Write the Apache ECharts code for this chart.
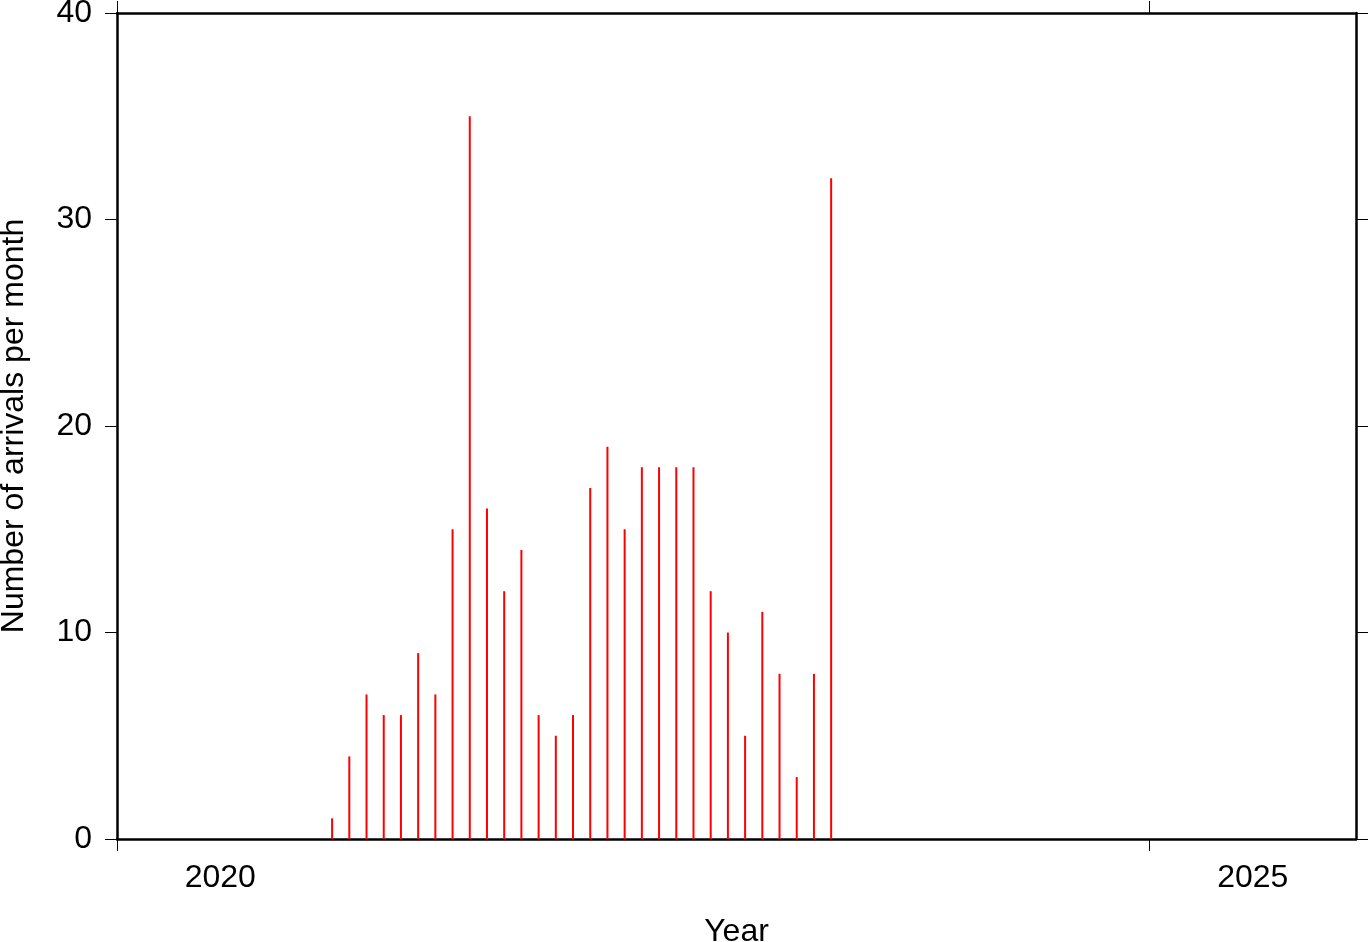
<!DOCTYPE html>
<html>
<head>
<meta charset="utf-8">
<script src="https://cdn.jsdelivr.net/npm/echarts@6/dist/echarts.min.js"></script>
<style>
html,body{margin:0;padding:0;background:#fff;}
#chart{width:1369px;height:942px;}
</style>
</head>
<body>
<div id="chart"></div>
<script>
// Months (YYYY-MM) and number of arrivals per month
const months = [
  "2021-01","2021-02","2021-03","2021-04","2021-05","2021-06",
  "2021-07","2021-08","2021-09","2021-10","2021-11","2021-12",
  "2022-01","2022-02","2022-03","2022-04","2022-05","2022-06",
  "2022-07","2022-08","2022-09","2022-10","2022-11","2022-12",
  "2023-01","2023-02","2023-03","2023-04","2023-05","2023-06"
];
const arrivals = [
  1, 4, 7, 6, 6, 9,
  7, 15, 35, 16, 12, 14,
  6, 5, 6, 17, 19, 15,
  18, 18, 18, 18, 12, 10,
  5, 11, 8, 3, 8, 32
];
const yTicks = [0, 10, 20, 30, 40];
const xTickYears = [2020, 2025];
const xLabelYears = ["2020", "2025"];

// decimal year at mid-month
function monthToYear(m) {
  const [y, mo] = m.split("-").map(Number);
  return y + (mo - 0.5) / 12;
}
const seriesData = months.map((m, i) => [monthToYear(m), arrivals[i]]);

const FONT = "'Liberation Sans', Arial, Helvetica, sans-serif";
const frame = { show: true, onZero: false, lineStyle: { color: '#000', width: 2.5 } };
const tick = { show: true, inside: false, length: 12, lineStyle: { color: '#000', width: 1 } };

const chart = echarts.init(document.getElementById('chart'), null, { renderer: 'canvas' });
chart.setOption({
  animation: false,
  backgroundColor: '#fff',
  grid: { left: 117, right: 13, top: 13, bottom: 103, containLabel: false, outerBoundsMode: 'none' },
  xAxis: [
    {
      type: 'value', position: 'bottom', min: 2020, max: 2026,
      name: 'Year', nameLocation: 'middle', nameGap: 77,
      nameTextStyle: { fontFamily: FONT, fontSize: 32, color: '#000' },
      axisLine: frame,
      axisTick: Object.assign({}, tick, { customValues: xTickYears }),
      axisLabel: {
        show: true, margin: 23, fontFamily: FONT, fontSize: 32, color: '#000',
        customValues: xTickYears.map(y => y + 0.5),
        formatter: (v) => xLabelYears[xTickYears.indexOf(Math.floor(v))] || ''
      },
      splitLine: { show: false }
    },
    {
      type: 'value', position: 'top', min: 2020, max: 2026,
      axisLine: frame,
      axisTick: Object.assign({}, tick, { customValues: xTickYears }),
      axisLabel: { show: false },
      splitLine: { show: false }
    }
  ],
  yAxis: [
    {
      type: 'value', position: 'left', min: 0, max: 40, interval: 10,
      name: 'Number of arrivals per month', nameLocation: 'middle', nameGap: 87,
      nameTextStyle: { fontFamily: FONT, fontSize: 32, color: '#000' },
      axisLine: frame,
      axisTick: Object.assign({}, tick, { customValues: yTicks }),
      axisLabel: { show: true, margin: 25, fontFamily: FONT, fontSize: 32, color: '#000', customValues: yTicks },
      splitLine: { show: false }
    },
    {
      type: 'value', position: 'right', min: 0, max: 40, interval: 10,
      axisLine: frame,
      axisTick: Object.assign({}, tick, { customValues: yTicks }),
      axisLabel: { show: false },
      splitLine: { show: false }
    }
  ],
  series: [{
    type: 'bar',
    xAxisIndex: 0, yAxisIndex: 0,
    data: seriesData,
    barWidth: 2,
    itemStyle: { color: '#ff0000' },
    silent: true
  }]
});
</script>
</body>
</html>
